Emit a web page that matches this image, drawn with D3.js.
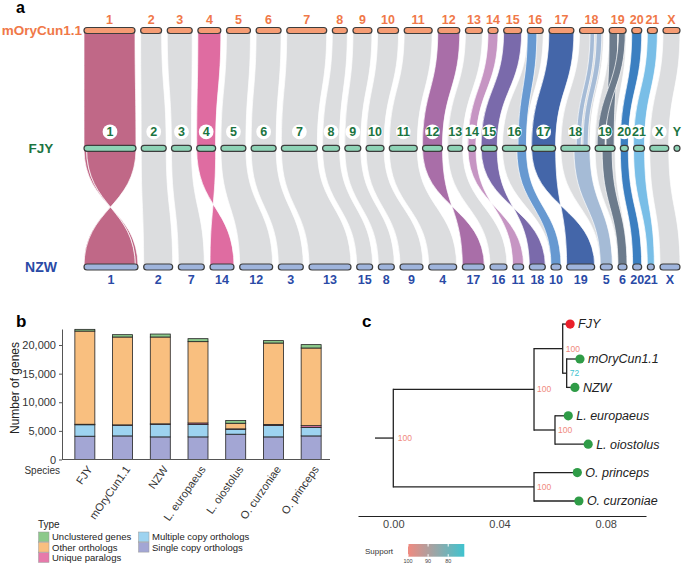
<!DOCTYPE html>
<html>
<head>
<meta charset="utf-8">
<script src="https://cdn.jsdelivr.net/npm/d3@7"></script>
<style>
  body { margin: 0; background: #fff; }
  svg { display: block; font-family: "Liberation Sans", Arial, sans-serif; }
</style>
</head>
<body>
<svg id="fig" width="685" height="564"></svg>
<script>
// ---------- panel a : synteny ----------
const refChroms = ["1","2","3","4","5","6","7","8","9","10","11","12","13","14","15","16","17","18","19","20","21","X"];
const refLen    = [51,21,25,23,24,25,40,15,19,21,28,22,17,10,18,16,25,24,17,10,10,17];
const fjyChroms = ["1","2","3","4","5","6","7","8","9","10","11","12","13","14","15","16","17","18","19","20","21","X","Y"];
const fjyLen    = [52,25,20,19,25,25,36,17,16,18,28,20,15,8,16,24,24,29,20,8,11,19,6];
const nzwChroms = ["1","2","7","14","12","3","13","15","8","9","4","17","16","11","18","10","19","5","6","20","21","X"];
const nzwLen    = [54,29,26,24,33,25,42,16,16,23,28,22,17,11,16,10,28,12,9,9,7,20];

// FJY chromosome -> NZW chromosome
const fjyToNzw = [["1","1"],["2","2"],["3","7"],["4","14"],["5","12"],["6","3"],["7","13"],["8","15"],
  ["9","8"],["10","9"],["11","4"],["12","17"],["13","16"],["14","11"],["15","18"],["16","10"],
  ["17","19"],["18","5"],["19","6"],["20","20"],["21","21"],["X","X"]];
const invertedLow = ["1","4","12","14","15","17"];
const coloredTop = ["1","4","12","14","15","17","20","21"];
const coloredLow = ["1","4","12","14","15","17","20","21"];
// partial coloured blocks: [chr, from0, from1, to0, to1]
const partialTop = [["16",0,0.6,0.65,1],["18",0.44,0.63,0.53,0.7],["18",0.7,0.93,0.76,0.94],
  ["19",0,0.5,0.55,0.95],["19",0.55,0.95,0.1,0.5]];
const partialLow = [["16",0.6,1,0,1],["18",0.45,1,0,1],["19",0.35,0.85,0,1]];

const chrColor = {"1":"#c06887","4":"#df6ca1","12":"#a96ea8","14":"#c695c3","15":"#7a6aab",
  "16":"#6799d1","17":"#4466a9","18":"#a5bbd6","19":"#6c7b8c","20":"#3b7fc1","21":"#79bee7"};
const grayRibbon = "#dcdddf";

// ---------- panel b : gene families ----------
const species = ["FJY","mOryCun1.1","NZW","L. europaeus","L. oiostolus","O. curzoniae","O. princeps"];
const singleCopy  = [4070,4120,3950,3950,4420,3950,4120];
const multiCopy   = [2000,1870,2210,2150,870,1980,1460];
const uniqueParal = [90,60,70,280,60,200,330];
const otherOrth   = [16280,15350,15170,14210,985,14220,13570];
const unclustered = [300,410,520,520,465,420,590];
const typeKeys   = ["Single copy orthologs","Multiple copy orthologs","Unique paralogs","Other orthologs","Unclustered genes"];
const typeColors = ["#a3a6d4","#9dd3f0","#e67aab","#f9bf7f","#8cc98b"];

// ---------- panel c : tree ----------
const tipNames = ["FJY","mOryCun1.1","NZW","L. europaeus","L. oiostolus","O. princeps","O. curzoniae"];
const tipDist  = [0.0666,0.0703,0.0684,0.0659,0.0734,0.0693,0.0699];
const tipRank  = [7.23,6,5,4,3,2,1];
const nodeNames    = ["root","A","R","M","L","O"];
const nodeDist     = [0,0.053,0.0638,0.0653,0.0609,0.053];
const nodeSupport  = [100,100,100,72,100,100];
const nodeChildren = [["A","O"],["R","L"],["FJY","M"],["mOryCun1.1","NZW"],["L. europaeus","L. oiostolus"],["O. princeps","O. curzoniae"]];
const rootEdge = 0.0069;

const svg = d3.select("#fig");

// ================= panel a =================
const SPAN = 596;
const xA = d3.scaleLinear().domain([0, SPAN]).range([84, 680]);
const rowY = { ref: 30.5, fjy: 148.3, nzw: 267 };

function layout(names, lens) {
  const gap = (SPAN - d3.sum(lens)) / (names.length - 1);
  const m = new Map();
  let acc = 0;
  names.forEach((n, i) => { m.set(n, { name: n, start: acc, end: acc + lens[i] }); acc += lens[i] + gap; });
  return m;
}
const refPos = layout(refChroms, refLen);
const fjyPos = layout(fjyChroms, fjyLen);
const nzwPos = layout(nzwChroms, nzwLen);

function at(c, f) { return xA(c.start + (c.end - c.start) * f); }

function ribbon(s, s0, s1, ys, t, t0, t1, yt, inv) {
  const ym = (ys + yt) / 2;
  const xs0 = at(s, s0), xs1 = at(s, s1);
  const a = inv ? at(t, t1) : at(t, t0), b = inv ? at(t, t0) : at(t, t1);
  const p = d3.path();
  p.moveTo(xs0, ys);
  p.bezierCurveTo(xs0, ym, a, ym, a, yt);
  p.lineTo(b, yt);
  p.bezierCurveTo(b, ym, xs1, ym, xs1, ys);
  p.closePath();
  return p.toString();
}

const links = [];
// upper section: mOryCun1.1 -> FJY
refChroms.forEach(c => links.push({ s: refPos.get(c), t: fjyPos.get(c), ys: rowY.ref, yt: rowY.fjy,
  s0: 0, s1: 1, t0: 0, t1: 1, inv: false, col: coloredTop.includes(c) ? chrColor[c] : grayRibbon }));
partialTop.forEach(([c, a0, a1, b0, b1]) => links.push({ s: refPos.get(c), t: fjyPos.get(c), ys: rowY.ref, yt: rowY.fjy,
  s0: a0, s1: a1, t0: b0, t1: b1, inv: false, col: chrColor[c] }));
// lower section: FJY -> NZW
fjyToNzw.forEach(([f, n]) => {
  const col = coloredLow.includes(f) ? chrColor[f] : grayRibbon;
  const inv = invertedLow.includes(f);
  if (f === "1") {
    links.push({ s: fjyPos.get(f), t: nzwPos.get(n), ys: rowY.fjy, yt: rowY.nzw, s0: 0, s1: 0.05, t0: 0.95, t1: 1, inv, col });
    links.push({ s: fjyPos.get(f), t: nzwPos.get(n), ys: rowY.fjy, yt: rowY.nzw, s0: 0.05, s1: 1, t0: 0, t1: 0.95, inv, col });
  } else {
    links.push({ s: fjyPos.get(f), t: nzwPos.get(n), ys: rowY.fjy, yt: rowY.nzw, s0: 0, s1: 1, t0: 0, t1: 1, inv, col });
  }
});
partialLow.forEach(([f, a0, a1, b0, b1]) => {
  const n = fjyToNzw.find(d => d[0] === f)[1];
  links.push({ s: fjyPos.get(f), t: nzwPos.get(n), ys: rowY.fjy, yt: rowY.nzw,
    s0: a0, s1: a1, t0: b0, t1: b1, inv: false, col: chrColor[f] });
});
links.sort((a, b) => (a.col === grayRibbon ? 0 : 1) - (b.col === grayRibbon ? 0 : 1));

const gA = svg.append("g");
gA.selectAll("path.rib").data(links).join("path")
  .attr("class", "rib")
  .attr("d", d => ribbon(d.s, d.s0, d.s1, d.ys, d.t, d.t0, d.t1, d.yt, d.inv))
  .attr("fill", d => d.col)
  .attr("stroke", "#fff")
  .attr("stroke-width", 0.7);

function drawRow(pos, y, fill) {
  gA.selectAll(null).data([...pos.values()]).join("rect")
    .attr("x", d => xA(d.start)).attr("y", y - 3)
    .attr("width", d => xA(d.end) - xA(d.start)).attr("height", 6)
    .attr("rx", 3)
    .attr("fill", fill).attr("stroke", "#3d3d3d").attr("stroke-width", 1.2);
}
drawRow(refPos, rowY.ref, "#f59c74");
drawRow(fjyPos, rowY.fjy, "#8ed3b6");
drawRow(nzwPos, rowY.nzw, "#9fb4dc");

const mid = d => xA((d.start + d.end) / 2);
gA.selectAll(null).data([...refPos.values()]).join("text")
  .attr("x", mid).attr("y", rowY.ref - 11).attr("dy", "0.35em")
  .attr("text-anchor", "middle").attr("font-size", 12.5).attr("font-weight", "bold")
  .attr("fill", "#f07848").text(d => d.name);

const fjyLab = gA.selectAll(null).data([...fjyPos.values()]).join("g")
  .attr("transform", d => `translate(${mid(d)},${rowY.fjy - 16.5})`);
fjyLab.append("circle").attr("r", 7.4).attr("fill", "#fff");
fjyLab.append("text").attr("dy", "0.36em").attr("text-anchor", "middle")
  .attr("font-size", 12.5).attr("font-weight", "bold").attr("fill", "#1b7441").text(d => d.name);

gA.selectAll(null).data([...nzwPos.values()]).join("text")
  .attr("x", mid).attr("y", rowY.nzw + 13).attr("dy", "0.35em")
  .attr("text-anchor", "middle").attr("font-size", 12.5).attr("font-weight", "bold")
  .attr("fill", "#2a4aa6").text(d => d.name);

gA.append("text").attr("x", 82).attr("y", rowY.ref).attr("dy", "0.35em").attr("text-anchor", "end")
  .attr("font-size", 13.5).attr("font-weight", "bold").attr("fill", "#f07848").text("mOryCun1.1");
gA.append("text").attr("x", 41).attr("y", rowY.fjy).attr("dy", "0.35em").attr("text-anchor", "middle")
  .attr("font-size", 13.5).attr("font-weight", "bold").attr("fill", "#1b7441").text("FJY");
gA.append("text").attr("x", 41).attr("y", rowY.nzw).attr("dy", "0.35em").attr("text-anchor", "middle")
  .attr("font-size", 14).attr("font-weight", "bold").attr("fill", "#2a4aa6").text("NZW");
gA.append("text").attr("x", 16).attr("y", 13).attr("font-size", 16).attr("font-weight", "bold").text("a");

// ================= panel b =================
const gB = svg.append("g");
const rows = species.map((s, i) => ({
  species: s,
  [typeKeys[0]]: singleCopy[i], [typeKeys[1]]: multiCopy[i], [typeKeys[2]]: uniqueParal[i],
  [typeKeys[3]]: otherOrth[i], [typeKeys[4]]: unclustered[i]
}));
const stacked = d3.stack().keys(typeKeys)(rows);
const typeColor = d3.scaleOrdinal(typeKeys, typeColors);

const xB = d3.scaleBand().domain(species).range([66, 330]).paddingInner(0.47).paddingOuter(0.235);
const yB = d3.scaleLinear().domain([0, 22800]).range([459.5, 329]);

gB.selectAll("g.layer").data(stacked).join("g").attr("class", "layer")
  .attr("fill", d => typeColor(d.key))
  .selectAll("rect").data(d => d).join("rect")
  .attr("x", d => xB(d.data.species)).attr("width", xB.bandwidth())
  .attr("y", d => yB(d[1])).attr("height", d => yB(d[0]) - yB(d[1]))
  .attr("stroke", "#222").attr("stroke-width", 0.8);

const yAxisB = gB.append("g").attr("transform", "translate(62,0)")
  .call(d3.axisLeft(yB).tickValues([0, 5000, 10000, 15000, 20000]).tickFormat(d3.format(","))
    .tickSize(3).tickSizeOuter(0));
yAxisB.select(".domain").attr("stroke", "#555");
yAxisB.selectAll(".tick line").attr("stroke", "#555");
yAxisB.selectAll("text").attr("font-size", 11).attr("fill", "#333").attr("font-family", null);

gB.append("line").attr("x1", 62).attr("x2", xB.range()[1])
  .attr("y1", yB(0)).attr("y2", yB(0)).attr("stroke", "#555");

gB.selectAll(null).data(species).join("text")
  .attr("transform", d => `translate(${xB(d) + xB.bandwidth() / 2 + 5},467) rotate(-55)`)
  .attr("dy", "0.35em").attr("text-anchor", "end").attr("font-size", 11).attr("fill", "#333")
  .text(d => d);
gB.append("text").attr("x", 60).attr("y", 470).attr("dy", "0.35em").attr("text-anchor", "end")
  .attr("font-size", 10).attr("fill", "#333").text("Species");
gB.append("text").attr("transform", "translate(15,388) rotate(-90)").attr("dy", "0.35em")
  .attr("text-anchor", "middle").attr("font-size", 12).attr("fill", "#222").text("Number of genes");
gB.append("text").attr("x", 16).attr("y", 327).attr("font-size", 17).attr("font-weight", "bold").text("b");

// legend
gB.append("text").attr("x", 38).attr("y", 524).attr("dy", "0.35em").attr("font-size", 10).attr("fill", "#222").text("Type");
const legendOrder = ["Unclustered genes","Other orthologs","Unique paralogs","Multiple copy orthologs","Single copy orthologs"];
const legItems = gB.selectAll("g.leg").data(legendOrder).join("g").attr("class", "leg")
  .attr("transform", (d, i) => `translate(${i < 3 ? 38.5 : 138.5},${532 + (i % 3) * 10.3})`);
legItems.append("rect").attr("width", 10.5).attr("height", 9.8)
  .attr("fill", d => typeColor(d)).attr("stroke", "#999").attr("stroke-width", 0.5);
legItems.append("text").attr("x", 13.5).attr("y", 5).attr("dy", "0.35em")
  .attr("font-size", 9.5).attr("fill", "#222").text(d => d);

// ================= panel c =================
const gC = svg.append("g");
const xT = d3.scaleLinear().domain([0, 0.08]).range([393.3, 605.7]);
const yT = d3.scaleLinear().domain([1, 6]).range([501, 359]);
const supportColor = d3.scaleLinear().domain([100, 72]).range(["#f08a80", "#3fc3cf"]).interpolate(d3.interpolateRgb);

const nodes = new Map();
tipNames.forEach((n, i) => nodes.set(n, { name: n, dist: tipDist[i], y: yT(tipRank[i]), tip: true }));
for (let i = nodeNames.length - 1; i >= 0; i--) {
  const kids = nodeChildren[i].map(k => nodes.get(k));
  nodes.set(nodeNames[i], { name: nodeNames[i], dist: nodeDist[i], support: nodeSupport[i],
    kids, y: d3.mean(kids, k => k.y), tip: false });
}
const internal = nodeNames.map(n => nodes.get(n));

const lineCol = "#222";
internal.forEach(nd => {
  const ys = nd.kids.map(k => k.y);
  gC.append("line").attr("x1", xT(nd.dist)).attr("x2", xT(nd.dist))
    .attr("y1", d3.min(ys)).attr("y2", d3.max(ys)).attr("stroke", lineCol).attr("stroke-width", 1.3).attr("stroke-linecap", "square");
  nd.kids.forEach(k => gC.append("line").attr("x1", xT(nd.dist)).attr("x2", xT(k.dist))
    .attr("y1", k.y).attr("y2", k.y).attr("stroke", lineCol).attr("stroke-width", 1.3));
});
const root = nodes.get("root");
gC.append("line").attr("x1", xT(-rootEdge)).attr("x2", xT(0)).attr("y1", root.y).attr("y2", root.y)
  .attr("stroke", lineCol).attr("stroke-width", 1.3);

gC.selectAll("text.sup").data(internal).join("text").attr("class", "sup")
  .attr("x", d => xT(d.dist) + (d.name === "root" ? 4.5 : 3)).attr("y", d => d.y).attr("dy", "0.35em")
  .attr("font-size", 8.5).attr("fill", d => supportColor(d.support)).text(d => d.support);

const tips = tipNames.map(n => nodes.get(n));
gC.selectAll("circle.tip").data(tips).join("circle").attr("class", "tip")
  .attr("cx", d => xT(d.dist)).attr("cy", d => d.y).attr("r", 4.6)
  .attr("fill", d => d.name === "FJY" ? "#ea1f2a" : "#2f9c47");
gC.selectAll("text.tipl").data(tips).join("text").attr("class", "tipl")
  .attr("x", d => xT(d.dist) + 8).attr("y", d => d.y).attr("dy", "0.35em")
  .attr("font-size", 12.5).attr("font-style", "italic").attr("fill", "#222").text(d => d.name);

const xTAxis = xT.copy().domain([xT.invert(358), xT.invert(646)]).range([358, 646]);
const axC = gC.append("g").attr("transform", "translate(0,516)")
  .call(d3.axisBottom(xTAxis).tickValues([0, 0.04, 0.08]).tickFormat(d3.format(".2f")).tickSize(0).tickPadding(4));
axC.select(".domain").attr("stroke", "#222").attr("stroke-width", 1.2);
axC.selectAll("text").attr("font-size", 11).attr("fill", "#444").attr("font-family", null);

gC.append("text").attr("x", 362).attr("y", 327).attr("font-size", 17).attr("font-weight", "bold").text("c");

// support legend
const xS = d3.scaleLinear().domain([100, 72]).range([408, 464.3]);
const grad = svg.append("defs").append("linearGradient").attr("id", "supGrad");
grad.selectAll("stop").data([0, 0.25, 0.5, 0.75, 1]).join("stop")
  .attr("offset", d => d).attr("stop-color", d => supportColor(100 - d * 28));
gC.append("rect").attr("x", xS(100)).attr("y", 544).attr("width", xS(72) - xS(100)).attr("height", 12.7)
  .attr("fill", "url(#supGrad)");
[100, 90, 80].forEach(v => {
  gC.append("line").attr("x1", xS(v)).attr("x2", xS(v)).attr("y1", 544).attr("y2", 546.5).attr("stroke", "#fff");
  gC.append("line").attr("x1", xS(v)).attr("x2", xS(v)).attr("y1", 554.2).attr("y2", 556.7).attr("stroke", "#fff");
  gC.append("text").attr("x", xS(v)).attr("y", 561.5).attr("dy", "0.35em").attr("text-anchor", "middle")
    .attr("font-size", 5.5).attr("fill", "#444").text(v);
});
gC.append("text").attr("x", 365).attr("y", 551.5).attr("dy", "0.35em").attr("font-size", 8).attr("fill", "#333").text("Support");
</script>
</body>
</html>
